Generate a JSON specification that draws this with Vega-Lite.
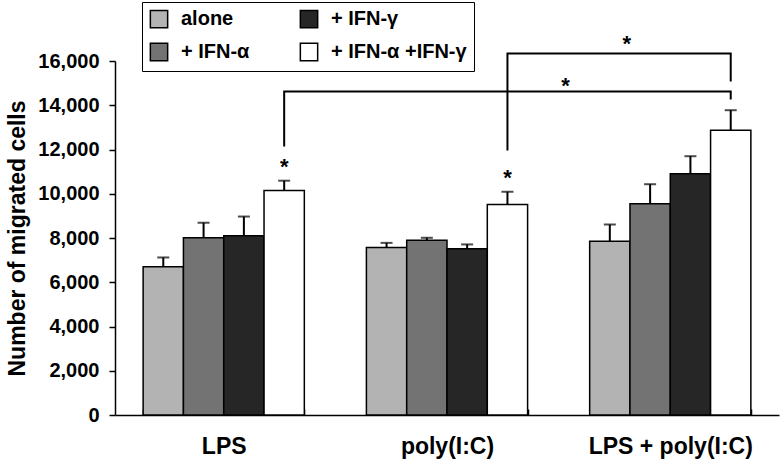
{
  "$schema": "https://vega.github.io/schema/vega-lite/v6.json",
  "width": 664,
  "height": 354,
  "autosize": {"type": "none"},
  "padding": {"left": 115, "top": 61, "right": 5, "bottom": 47},
  "background": "white",
  "config": {
    "view": {"stroke": null},
    "font": "Liberation Sans",
    "text": {"font": "Liberation Sans"}
  },
  "datasets": {
    "bars": [
      {"group": "LPS", "series": "alone", "value": 6700, "err": 7120},
      {"group": "LPS", "series": "+ IFN-α", "value": 8010, "err": 8690},
      {"group": "LPS", "series": "+ IFN-γ", "value": 8100, "err": 8970},
      {"group": "LPS", "series": "+ IFN-α +IFN-γ", "value": 10150, "err": 10590},
      {"group": "poly(I:C)", "series": "alone", "value": 7570, "err": 7780},
      {"group": "poly(I:C)", "series": "+ IFN-α", "value": 7900, "err": 8010},
      {"group": "poly(I:C)", "series": "+ IFN-γ", "value": 7510, "err": 7710},
      {"group": "poly(I:C)", "series": "+ IFN-α +IFN-γ", "value": 9515, "err": 10090},
      {"group": "LPS + poly(I:C)", "series": "alone", "value": 7855, "err": 8610},
      {"group": "LPS + poly(I:C)", "series": "+ IFN-α", "value": 9546, "err": 10431},
      {"group": "LPS + poly(I:C)", "series": "+ IFN-γ", "value": 10902, "err": 11697},
      {"group": "LPS + poly(I:C)", "series": "+ IFN-α +IFN-γ", "value": 12872, "err": 13776}
    ],
    "brackets": [
      {"bracket": "lower", "step": 1, "group": "LPS", "series": "+ IFN-α +IFN-γ", "y": 12136},
      {"bracket": "lower", "step": 2, "group": "LPS", "series": "+ IFN-α +IFN-γ", "y": 14621},
      {"bracket": "lower", "step": 3, "group": "LPS + poly(I:C)", "series": "+ IFN-α +IFN-γ", "y": 14621},
      {"bracket": "lower", "step": 4, "group": "LPS + poly(I:C)", "series": "+ IFN-α +IFN-γ", "y": 14260},
      {"bracket": "upper", "step": 1, "group": "poly(I:C)", "series": "+ IFN-α +IFN-γ", "y": 11955},
      {"bracket": "upper", "step": 2, "group": "poly(I:C)", "series": "+ IFN-α +IFN-γ", "y": 16339},
      {"bracket": "upper", "step": 3, "group": "LPS + poly(I:C)", "series": "+ IFN-α +IFN-γ", "y": 16339},
      {"bracket": "upper", "step": 4, "group": "LPS + poly(I:C)", "series": "+ IFN-α +IFN-γ", "y": 15073}
    ],
    "stars": [
      {"group": "LPS", "series": "+ IFN-α +IFN-γ", "y": 11370, "label": "*"},
      {"group": "poly(I:C)", "series": "+ IFN-α +IFN-γ", "y": 10900, "label": "*"}
    ],
    "lowerStar": [
      {"group": "poly(I:C)", "series": "+ IFN-α +IFN-γ", "y": 15042, "label": "*"}
    ],
    "upperStar": [
      {"group": "LPS + poly(I:C)", "series": "alone", "y": 16971, "label": "*"}
    ]
  },
  "encoding": {
    "x": {
      "field": "group",
      "type": "nominal",
      "sort": ["LPS", "poly(I:C)", "LPS + poly(I:C)"],
      "scale": {"paddingInner": 0.278, "paddingOuter": 0.126},
      "axis": {
        "title": null,
        "labelAngle": 0,
        "labelFont": "Liberation Sans",
        "labelFontSize": 23,
        "labelFontWeight": "bold",
        "labelColor": "black",
        "labelPadding": 26,
        "domainColor": "black",
        "domainWidth": 1.5,
        "tickColor": "black",
        "tickWidth": 1.5,
        "tickSize": -6,
        "tickBand": "extent"
      }
    },
    "xOffset": {
      "field": "series",
      "type": "nominal",
      "sort": ["alone", "+ IFN-α", "+ IFN-γ", "+ IFN-α +IFN-γ"],
      "scale": {"domain": ["alone", "+ IFN-α", "+ IFN-γ", "+ IFN-α +IFN-γ"], "paddingInner": 0, "paddingOuter": 0}
    }
  },
  "layer": [
    {
      "data": {"name": "bars"},
      "mark": {"type": "bar", "stroke": "black", "strokeWidth": 1.5},
      "encoding": {
        "y": {
          "field": "value",
          "type": "quantitative",
          "scale": {"domain": [0, 16000], "nice": false},
          "axis": {
            "title": "Number of migrated cells",
            "titleFont": "Liberation Sans",
            "titleFontSize": 23,
            "titleFontWeight": "bold",
            "titleColor": "black",
            "titlePadding": 8,
            "values": [0, 2000, 4000, 6000, 8000, 10000, 12000, 14000, 16000],
            "format": ",d",
            "grid": false,
            "labelFont": "Liberation Sans",
            "labelFontSize": 20,
            "labelFontWeight": "bold",
            "labelColor": "black",
            "labelPadding": 10,
            "domainColor": "black",
            "domainWidth": 1.5,
            "tickColor": "black",
            "tickWidth": 1.5,
            "tickSize": 6
          }
        },
        "fill": {
          "field": "series",
          "type": "nominal",
          "scale": {
            "domain": ["alone", "+ IFN-α", "+ IFN-γ", "+ IFN-α +IFN-γ"],
            "range": ["#b3b3b3", "#737373", "#262626", "#ffffff"]
          },
          "legend": {
            "title": null,
            "orient": "none",
            "legendX": 27,
            "legendY": -59,
            "columns": 2,
            "columnPadding": 47,
            "rowPadding": 9,
            "padding": 7,
            "strokeColor": "black",
            "fillColor": "white",
            "symbolType": "square",
            "symbolSize": 300,
            "symbolStrokeColor": "black",
            "symbolStrokeWidth": 1.5,
            "labelOffset": 12,
            "labelFont": "Liberation Sans",
            "labelFontSize": 20,
            "labelFontWeight": "bold",
            "labelColor": "black",
            "labelLimit": 300
          }
        }
      }
    },
    {
      "data": {"name": "bars"},
      "mark": {"type": "rule", "color": "black", "strokeWidth": 2},
      "encoding": {
        "y": {"field": "value", "type": "quantitative"},
        "y2": {"field": "err"}
      }
    },
    {
      "data": {"name": "bars"},
      "mark": {"type": "tick", "color": "black", "thickness": 2, "size": 12, "orient": "horizontal"},
      "encoding": {
        "y": {"field": "err", "type": "quantitative"}
      }
    },
    {
      "data": {"name": "brackets"},
      "mark": {"type": "line", "color": "black", "strokeWidth": 2, "interpolate": "linear"},
      "encoding": {
        "y": {"field": "y", "type": "quantitative"},
        "detail": {"field": "bracket"},
        "order": {"field": "step", "type": "quantitative"}
      }
    },
    {
      "data": {"name": "stars"},
      "mark": {"type": "text", "fontSize": 22, "fontWeight": "bold", "color": "black", "baseline": "middle", "dy": 4},
      "encoding": {
        "y": {"field": "y", "type": "quantitative"},
        "text": {"field": "label"}
      }
    },
    {
      "data": {"name": "lowerStar"},
      "mark": {"type": "text", "fontSize": 22, "fontWeight": "bold", "color": "black", "baseline": "middle", "dy": 4, "dx": 58},
      "encoding": {
        "y": {"field": "y", "type": "quantitative"},
        "text": {"field": "label"}
      }
    },
    {
      "data": {"name": "upperStar"},
      "mark": {"type": "text", "fontSize": 22, "fontWeight": "bold", "color": "black", "baseline": "middle", "dy": 4, "dx": 17},
      "encoding": {
        "y": {"field": "y", "type": "quantitative"},
        "text": {"field": "label"}
      }
    }
  ]
}
